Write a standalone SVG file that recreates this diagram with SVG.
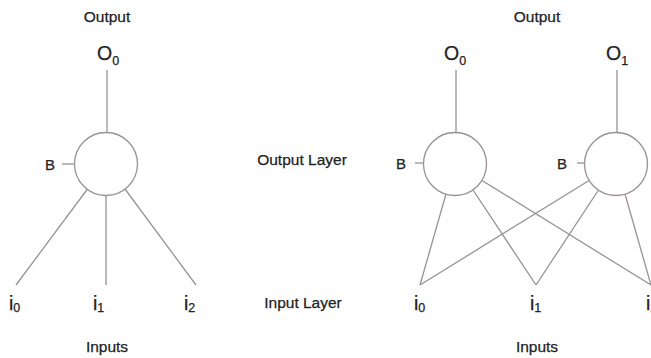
<svg xmlns="http://www.w3.org/2000/svg" width="651" height="358" viewBox="0 0 651 358">
<style>
.t{font-family:"Liberation Sans",Arial,sans-serif;fill:#222;stroke:#222;stroke-width:0.25}
.lbl{font-size:15.5px;text-anchor:middle}
.big{font-size:19.5px}
.sub{font-size:12.5px}
.b{font-size:15px}
.ln{stroke:#9a9292;stroke-width:1.3;fill:none}
.nd{stroke:#9a9292;stroke-width:1.3;fill:#fff}
</style>
<rect width="651" height="358" fill="#fff"/>
<text class="t lbl" x="107" y="22">Output</text>
<text class="t lbl" x="537" y="22">Output</text>
<text class="t lbl" x="302" y="165">Output Layer</text>
<text class="t lbl" x="303" y="308">Input Layer</text>
<text class="t lbl" x="107" y="352">Inputs</text>
<text class="t lbl" x="537" y="352">Inputs</text>
<g id="connectors">
<line class="ln" x1="107" y1="70" x2="107" y2="133"/>
<line class="ln" x1="62" y1="164" x2="75" y2="164"/>
<line class="ln" x1="87.5" y1="189" x2="16" y2="285"/>
<line class="ln" x1="106" y1="195" x2="106" y2="285"/>
<line class="ln" x1="125" y1="189" x2="196" y2="285"/>
<line class="ln" x1="456" y1="70" x2="456" y2="133"/>
<line class="ln" x1="617" y1="70" x2="617" y2="133"/>
<line class="ln" x1="415" y1="163" x2="424" y2="163"/>
<line class="ln" x1="577" y1="163" x2="585" y2="163"/>
<line class="ln" x1="446" y1="194" x2="420" y2="285"/>
<line class="ln" x1="473" y1="190" x2="536" y2="285"/>
<line class="ln" x1="482" y1="180.5" x2="651" y2="285"/>
<line class="ln" x1="589" y1="180.5" x2="420" y2="285"/>
<line class="ln" x1="598.5" y1="190" x2="536" y2="285"/>
<line class="ln" x1="625" y1="194" x2="651" y2="285"/>
</g>
<g id="n-left"><circle class="nd" cx="106" cy="164" r="31.5"/><text class="t b" x="45" y="169.5">B</text></g>
<g id="n-o0"><circle class="nd" cx="455" cy="164" r="31.5"/><text class="t b" x="396" y="168.5">B</text></g>
<g id="n-o1"><circle class="nd" cx="616" cy="164" r="31.5"/><text class="t b" x="557" y="168.5">B</text></g>
<g id="out-left"><text class="t big" x="97" y="60">O<tspan class="sub" dy="5">0</tspan></text></g>
<g id="out-o0"><text class="t big" x="444" y="60">O<tspan class="sub" dy="5">0</tspan></text></g>
<g id="out-o1"><text class="t big" x="606" y="60">O<tspan class="sub" dy="5">1</tspan></text></g>
<g id="in-left-0"><text class="t big" x="9" y="310">i<tspan class="sub" dy="2">0</tspan></text></g>
<g id="in-left-1"><text class="t big" x="93" y="310">i<tspan class="sub" dy="2">1</tspan></text></g>
<g id="in-left-2"><text class="t big" x="184" y="310">i<tspan class="sub" dy="2">2</tspan></text></g>
<g id="in-right-0"><text class="t big" x="414" y="310">i<tspan class="sub" dy="2">0</tspan></text></g>
<g id="in-right-1"><text class="t big" x="530" y="310">i<tspan class="sub" dy="2">1</tspan></text></g>
<g id="in-right-2"><text class="t big" x="646" y="310">i<tspan class="sub" dy="2">2</tspan></text></g>
</svg>
